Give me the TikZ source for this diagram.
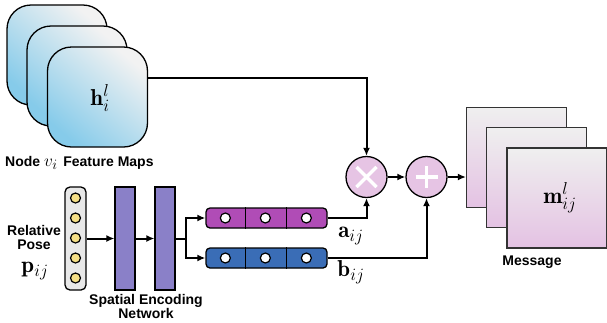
\documentclass[tikz,border=0pt]{standalone}
\usepackage{fontspec}
\setsansfont{Liberation Sans}
\usetikzlibrary{arrows.meta,calc}
\definecolor{fmblue}{HTML}{86CBEA}
\definecolor{fmlight}{HTML}{F2F2F2}
\definecolor{msgpink}{HTML}{E4C2E3}
\definecolor{msglight}{HTML}{EFEFEF}
\definecolor{oppink}{HTML}{E6C4E4}
\definecolor{vecpurple}{HTML}{B04CB6}
\definecolor{vecblue}{HTML}{3A6DB6}
\definecolor{encpurple}{HTML}{8A80C8}
\definecolor{poseyellow}{HTML}{F5DF86}
\definecolor{posegray}{HTML}{E8E8E8}
\begin{document}
\begin{tikzpicture}[x=1pt,y=-1pt,
  fmap/.style={draw=black,line width=1.3pt,rounded corners=24pt,minimum width=100pt,minimum height=100pt,inner sep=0pt,
    top color=fmlight,bottom color=fmblue,shading angle=-40},
  msgsq/.style={draw=black!80,line width=1.2pt,minimum width=100pt,minimum height=100pt,inner sep=0pt,
    top color=msglight,bottom color=msgpink},
  opcirc/.style={circle,draw=black,line width=1.3pt,fill=oppink,minimum size=41pt,inner sep=0pt},
  vecbox/.style={draw=black,line width=1.3pt,rounded corners=4pt,minimum width=121pt,minimum height=20pt,inner sep=0pt},
  encbar/.style={draw=black,line width=1.2pt,fill=encpurple,minimum width=20pt,minimum height=103pt,inner sep=0pt},
  dot/.style={circle,draw=black,line width=1.2pt,minimum size=10pt,inner sep=0pt},
  arr/.style={line width=2pt,-{Latex[length=8pt,width=7pt]}},
  lbl/.style={font=\sffamily\bfseries\fontsize{14}{15}\selectfont,align=center,inner sep=0pt},
  mlbl/.style={font=\fontsize{23}{25}\selectfont,inner sep=0pt}]
\useasboundingbox (0,0) rectangle (607,322);
% feature maps
\node[fmap] (fm1) at (57,55) {};
\node[fmap] (fm2) at (77,76) {};
\node[fmap] (fm3) at (97.5,97) {};
\node[mlbl] (h) at (100,98) {$\mathbf{h}_i^l$};
\node[lbl,anchor=west] (fmlbl) at (5,163) {Node \normalfont\fontsize{19}{19}\selectfont$v_i$\ \sffamily\bfseries\fontsize{14}{15}\selectfont Feature Maps};
% operators
\node[opcirc] (mul) at (366.5,177) {};
\draw[white,line width=3.2pt] ($(mul)+(-10,-10)$) -- ($(mul)+(10,10)$) ($(mul)+(-10,10)$) -- ($(mul)+(10,-10)$);
\node[opcirc] (add) at (426.5,177) {};
\draw[white,line width=3.2pt] ($(add)+(-11,0)$) -- ($(add)+(11,0)$) ($(add)+(0,-11)$) -- ($(add)+(0,11)$);
% message
\node[msgsq] (msg1) at (516.5,157.5) {};
\node[msgsq] (msg2) at (536.5,177.5) {};
\node[msgsq] (msg3) at (557,198) {};
\node[mlbl] (m) at (560,198) {$\mathbf{m}_{ij}^l$};
\node[lbl] (msglbl) at (532,262) {Message};
% pose
\node[draw=black,line width=1.3pt,fill=posegray,rounded corners=5pt,minimum width=21pt,minimum height=103pt,inner sep=0pt] (pose) at (75.5,238.5) {};
\foreach \i/\yy in {1/198,2/218,3/238,4/258,5/278}{
  \node[dot,fill=poseyellow] (p\i) at (75.5,\yy) {};
}
\node[lbl] (poselbl) at (34,237) {Relative\\[-1pt]Pose};
\node[mlbl] (plbl) at (35,271) {$\mathbf{p}_{ij}$};
% encoder
\node[encbar] (enc1) at (125,238.5) {};
\node[encbar] (enc2) at (165,238.5) {};
\node[lbl] (enclbl) at (146,306) {Spatial Encoding\\[-1pt]Network};
% vectors
\node[vecbox,fill=vecpurple] (va) at (266.5,218) {};
\node[vecbox,fill=vecblue] (vb) at (266.5,258) {};
\foreach \v in {va,vb}{
  \draw[black,line width=1.1pt] ($(\v.north west)+(40,0)$) -- ($(\v.south west)+(40,0)$);
  \draw[black,line width=1.1pt] ($(\v.north west)+(81,0)$) -- ($(\v.south west)+(81,0)$);
  \foreach \dx in {20,60,101}{
    \node[dot,fill=white] at ($(\v.west)+(\dx,0)$) {};
  }
}
\node[mlbl] (alb) at (351,236) {$\mathbf{a}_{ij}$};
\node[mlbl] (blb) at (351,272) {$\mathbf{b}_{ij}$};
% connectors
\draw[arr] ([yshift=19pt]fm3.east) -| (mul.north);
\draw[arr] (mul.east) -- (add.west);
\draw[arr] (add.east) -- (add.east -| msg1.west);
\draw[arr] (pose.east) -- (enc1.west);
\draw[arr] (enc1.east) -- (enc2.west);
\coordinate (split) at ($(enc2.east)+(10,0)$);
\draw[line width=2pt] (enc2.east) -- (split);
\draw[arr] (split) |- (va.west);
\draw[arr] (split) |- (vb.west);
\draw[arr] (va.east) -| (mul.south);
\draw[arr] (vb.east) -| (add.south);
\end{tikzpicture}
\end{document}
